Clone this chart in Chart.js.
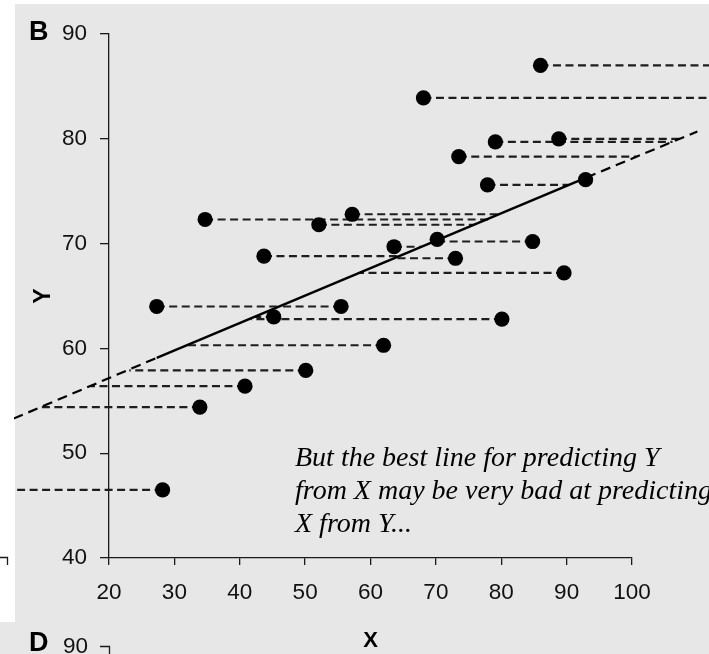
<!DOCTYPE html>
<html lang="en">
<head>
<meta charset="UTF-8">
<title>Predicting X from Y</title>
<script src="https://cdn.jsdelivr.net/npm/chart.js"></script>
<style>
  html, body { margin: 0; padding: 0; background: #fff; }
</style>
</head>
<body>
<canvas id="chart" width="709" height="654"></canvas>
<script>
var ptX = [86.0, 68.1, 88.8, 79.1, 73.5, 77.9, 92.9, 34.7, 57.2, 52.1, 43.7, 63.6, 70.2, 73.0, 84.8, 89.6, 27.3, 55.5, 45.2, 80.1, 62.0, 50.1, 40.8, 33.9, 28.2];
var ptY = [87.0, 83.9, 80.0, 79.7, 78.3, 75.6, 76.1, 72.3, 72.8, 71.8, 68.8, 69.7, 70.4, 68.6, 70.2, 67.2, 64.0, 64.0, 63.0, 62.8, 60.3, 57.9, 56.4, 54.4, 46.5];
// x where each horizontal dashed line stops (on the fitted line, or past the panel edge)
var endX = [115, 115, 107.3, 106.2, 100.7, 90.3, 92.5, 78.1, 79.6, 76.0, 64.4, 67.8, 70.5, 63.6, 69.9, 58.4, 46.2, 46.2, 42.3, 41.7, 31.9, 23.1, 17.2, 9.4, -5];

// fitted line: solid over the data range, dashed beyond it
var fitSolidX = [27.3, 93.0];
var fitSolidY = [59.1, 76.3];
var fitLeftX = [5.4, 27.3];
var fitLeftY = [53.3, 59.1];
var fitRightX = [93.0, 110.0];
var fitRightY = [76.3, 80.7];

var xTicks = [20, 30, 40, 50, 60, 70, 80, 90, 100];
var yTicks = [40, 50, 60, 70, 80, 90];

var note = ["But the best line for predicting Y", "from X may be very bad at predicting", "X from Y..."];

function pairs(xs, ys) {
  return xs.map(function (x, i) { return { x: x, y: ys[i] }; });
}

var residuals = [];
ptX.forEach(function (x, i) {
  residuals.push({ x: x, y: ptY[i] });
  residuals.push({ x: endX[i], y: ptY[i] });
  residuals.push({ x: endX[i], y: null });
});

var fitDashed = pairs(fitLeftX, fitLeftY).concat([{ x: fitLeftX[1], y: null }], pairs(fitRightX, fitRightY));

var ink = '#1a1a1a';
var wide = { left: 95, top: 31, right: 80, bottom: 97 };

var panel = {
  id: 'panel',
  beforeDraw: function (chart) {
    var c = chart.ctx;
    c.save();
    c.fillStyle = '#fff';
    c.fillRect(0, 0, chart.width, chart.height);
    c.fillStyle = '#e7e7e7';
    c.fillRect(15, 4, chart.width - 15, chart.height - 4);
    c.fillRect(0, 622, 15, chart.height - 622);
    c.restore();
  },
  afterDraw: function (chart) {
    var c = chart.ctx;
    c.save();
    c.fillStyle = '#000';
    c.textBaseline = 'alphabetic';
    c.font = 'bold 27px "Liberation Sans"';
    c.fillText('B', 29, 40);
    c.fillText('D', 29, 651);

    // the cut-off bits of the neighbouring panels
    c.font = '22.5px "Liberation Sans"';
    c.textAlign = 'right';
    c.textBaseline = 'middle';
    c.fillStyle = '#111';
    c.fillText('90', 88, 647);
    c.strokeStyle = ink;
    c.lineWidth = 1.3;
    c.beginPath();
    c.moveTo(100, 646.5); c.lineTo(109.5, 646.5); c.lineTo(109.5, 654);
    c.moveTo(0, 557.5); c.lineTo(7.5, 557.5); c.lineTo(7.5, 565);
    c.stroke();

    c.textAlign = 'left';
    c.textBaseline = 'alphabetic';
    c.fillStyle = '#000';
    c.font = 'italic 28px "Liberation Serif"';
    note.forEach(function (t, i) { c.fillText(t, 295, 466 + i * 33); });
    c.restore();
  }
};

new Chart(document.getElementById('chart'), {
  type: 'scatter',
  data: {
    datasets: [
      {
        data: pairs(ptX, ptY),
        pointRadius: 7.6,
        pointHoverRadius: 7.6,
        pointBackgroundColor: '#000',
        pointBorderWidth: 0,
        showLine: false
      },
      {
        type: 'line',
        data: pairs(fitSolidX, fitSolidY),
        borderColor: '#000',
        borderWidth: 2.5,
        pointRadius: 0,
        fill: false,
        clip: wide
      },
      {
        type: 'line',
        data: fitDashed,
        borderColor: '#000',
        borderWidth: 2.2,
        borderDash: [10, 6],
        pointRadius: 0,
        fill: false,
        spanGaps: false,
        clip: wide
      },
      {
        type: 'line',
        data: residuals,
        borderColor: '#1e1e1e',
        borderWidth: 2.2,
        borderDash: [8, 4.5],
        pointRadius: 0,
        fill: false,
        spanGaps: false,
        clip: wide
      }
    ]
  },
  options: {
    responsive: false,
    animation: false,
    layout: { padding: { top: 34, right: 77, bottom: 0, left: 0 } },
    plugins: { legend: { display: false }, tooltip: { enabled: false } },
    scales: {
      x: {
        type: 'linear',
        min: 20,
        max: 100,
        afterBuildTicks: function (s) { s.ticks = xTicks.map(function (v) { return { value: v }; }); },
        afterFit: function (s) { s.height = 96; },
        ticks: { maxRotation: 0, padding: 14, color: '#111', font: { family: 'Liberation Sans', size: 22.5 } },
        grid: { drawOnChartArea: false, tickLength: 7, color: ink, lineWidth: 1.3 },
        border: { color: ink, width: 1.3 },
        title: { display: true, text: 'X', color: '#000', padding: 0, font: { family: 'Liberation Sans', size: 22, weight: 'bold' } }
      },
      y: {
        type: 'linear',
        min: 40,
        max: 90,
        afterBuildTicks: function (s) { s.ticks = yTicks.map(function (v) { return { value: v }; }); },
        afterFit: function (s) { s.width = 109; },
        ticks: { padding: 13, color: '#111', font: { family: 'Liberation Sans', size: 22.5 } },
        grid: { drawOnChartArea: false, tickLength: 9, color: ink, lineWidth: 1.3 },
        border: { color: ink, width: 1.3 },
        title: { display: true, text: 'Y', color: '#000', padding: { top: 30, bottom: 0 }, font: { family: 'Liberation Sans', size: 23, weight: 'bold' } }
      }
    }
  },
  plugins: [panel]
});
</script>
</body>
</html>
